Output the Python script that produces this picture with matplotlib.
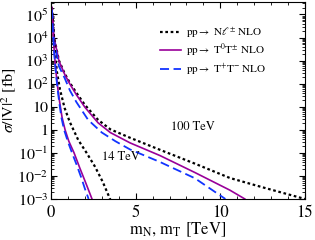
import numpy as np
import matplotlib
matplotlib.use('Agg')
import matplotlib.pyplot as plt
from matplotlib.ticker import FixedLocator, FuncFormatter, LogLocator, NullFormatter, MultipleLocator

plt.rcParams['font.family'] = ['STIXGeneral', 'DejaVu Serif']
plt.rcParams['mathtext.fontset'] = 'stix'

# cross sections in fb
# 100 TeV
m_n100 = [0.05, 0.18, 0.47, 0.8, 1.1, 1.5, 2.0, 2.78, 3.5, 4.67, 6.44, 8.5, 10.57, 12.5, 15.0]
s_n100 = [2.0e5, 1.0e4, 1.0e3, 2.8e2, 1.12e2, 4.0e1, 1.2e1, 2.7e0, 1.05e0, 4.5e-1, 1.35e-1,
          3.4e-2, 8.1e-3, 3.2e-3, 1.0e-3]
m_tt100 = [0.05, 0.18, 0.47, 0.8, 1.1, 1.5, 2.0, 2.78, 3.5, 4.67, 6.44, 8.5, 10.57, 11.45]
s_tt100 = [2.0e5, 1.0e4, 9.5e2, 2.6e2, 1.0e2, 3.3e1, 9.5e0, 2.0e0, 7.6e-1, 2.7e-1, 7.6e-2,
           1.4e-2, 2.4e-3, 1.0e-3]
m_tpm100 = [0.05, 0.18, 0.47, 0.8, 1.12, 1.5, 2.19, 3.0, 3.8, 4.67, 6.44, 8.5, 10.3]
s_tpm100 = [1.6e5, 7.1e3, 5.6e2, 1.78e2, 5.0e1, 1.58e1, 2.7e0, 7.6e-1, 3.2e-1, 1.4e-1, 4.0e-2,
            7.9e-3, 1.0e-3]
# 14 TeV
m_n14 = [0.05, 0.15, 0.25, 0.35, 0.53, 0.8, 1.1, 1.6, 2.1, 2.6, 3.05, 3.5]
s_n14 = [2.0e5, 1.6e4, 1.6e3, 3.2e2, 5.5e1, 8.9e0, 2.24e0, 3.7e-1, 1.0e-1, 2.5e-2, 5.6e-3, 9.5e-4]
m_tt14 = [0.05, 0.12, 0.2, 0.3, 0.4, 0.5, 0.65, 0.83, 1.05, 1.36, 1.7, 2.05, 2.42]
s_tt14 = [2.0e5, 1.6e4, 2.0e3, 2.8e2, 6.3e1, 1.78e1, 3.5e0, 1.0e0, 3.2e-1, 1.0e-1, 2.2e-2,
          5.0e-3, 1.0e-3]
m_tpm14 = [0.05, 0.12, 0.2, 0.3, 0.4, 0.5, 0.62, 0.77, 1.0, 1.24, 1.5, 1.8, 2.0, 2.22]
s_tpm14 = [1.6e5, 1.26e4, 1.6e3, 2.2e2, 5.0e1, 1.26e1, 3.2e0, 1.0e0, 3.0e-1, 1.0e-1, 3.2e-2,
           7.9e-3, 2.8e-3, 1.0e-3]

col_n = 'black'
col_tt = '#990099'
col_tpm = '#1133ff'
ls_n = (0, (1.2, 1.2))
ls_tpm = (0, (5, 2.5))

fig = plt.figure(figsize=(3.15, 2.4), dpi=100)
ax = fig.add_axes([0.162, 0.171, 0.806, 0.821])

ax.plot(m_n100, s_n100, color=col_n, ls=ls_n, lw=1.6, label=r'pp$\rightarrow$ N$\ell^{\pm}$ NLO')
ax.plot(m_tt100, s_tt100, color=col_tt, ls='-', lw=1.2, label=r'pp$\rightarrow$ T$^0$T$^{\pm}$ NLO')
ax.plot(m_tpm100, s_tpm100, color=col_tpm, ls=ls_tpm, lw=1.3, label=r'pp$\rightarrow$ T$^{+}$T$^{-}$ NLO')
ax.plot(m_n14, s_n14, color=col_n, ls=ls_n, lw=1.6)
ax.plot(m_tt14, s_tt14, color=col_tt, ls='-', lw=1.2)
ax.plot(m_tpm14, s_tpm14, color=col_tpm, ls=ls_tpm, lw=1.3)

ax.set_yscale('log')
ax.set_xlim(0, 15)
ax.set_ylim(1e-3, 3.5e5)

ax.xaxis.set_major_locator(FixedLocator([0, 5, 10, 15]))
ax.xaxis.set_minor_locator(MultipleLocator(1))
ax.yaxis.set_major_locator(LogLocator(base=10, numticks=20))
ax.yaxis.set_minor_locator(LogLocator(base=10, subs=np.arange(2, 10), numticks=20))
ax.yaxis.set_minor_formatter(NullFormatter())


def yfmt(v, pos):
    e = int(round(np.log10(v)))
    if e == 0:
        return '1'
    if e == 1:
        return '10'
    return r'$10^{%d}$' % e


ax.yaxis.set_major_formatter(FuncFormatter(yfmt))
ax.tick_params(which='both', direction='in', top=True, right=True)
ax.tick_params(axis='y', labelsize=11.5, pad=2)
ax.tick_params(axis='x', labelsize=12, pad=4)
ax.tick_params(which='major', length=4, width=0.8)
ax.tick_params(which='minor', length=2, width=0.6)

ax.set_xlabel(r'm$_{\rm N}$, m$_{\rm T}$ [TeV]', fontsize=12, labelpad=0)
ax.set_ylabel(r'$\sigma$/|V|$^2$ [fb]', fontsize=11.5, labelpad=-1)

ax.text(8.4, 1.35, '100 TeV', fontsize=9, ha='center', va='center')
ax.text(4.15, 0.068, '14 TeV', fontsize=9, ha='center', va='center')

ax.legend(loc='upper left', bbox_to_anchor=(0.39, 0.93), frameon=False, fontsize=8,
          handlelength=1.9, handletextpad=0.4, labelspacing=0.2)

fig.savefig('out.png', dpi=100)
